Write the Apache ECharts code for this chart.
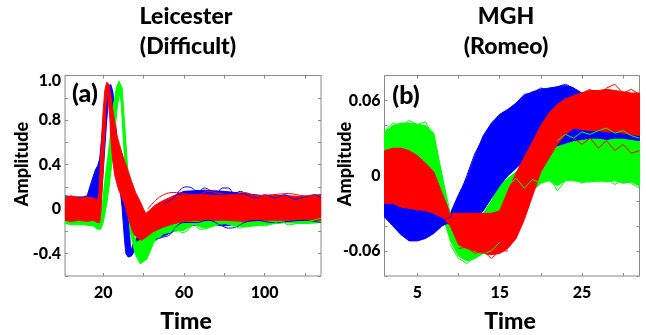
<!DOCTYPE html>
<html><head><meta charset="utf-8">
<script src="https://cdn.jsdelivr.net/npm/echarts@6/dist/echarts.min.js"></script>
<style>html,body{margin:0;padding:0;background:#fff}#c{width:646px;height:335px}</style>
</head><body><div id="c"></div>
<script>
// ---------- Panel (a) : Leicester (Difficult) ----------
const xTicksA = [20, 40, 60, 80, 100, 120];
const xLabelsA = [20, 60, 100];
const yLabelsA = [-0.4, 0, 0.4, 0.8];
const blueA_upper = [[1,0.12],[5,0.11],[10,0.11],[12,0.12],[14,0.24],[16,0.35],[17.2,0.39],[18.2,0.45],[19.5,0.7],[21,0.95],[22.5,1.1],[23.7,1.12],[24.8,1.05],[25.6,0.85],[27,0.61],[29,0.35],[30.5,0.2],[32.3,0.02],[33,-0.2],[33.6,-0.38],[35,-0.3],[38,-0.22],[42,-0.1],[46,0.0],[50,0.06],[55,0.12],[60,0.16],[70,0.17],[80,0.16],[90,0.14],[100,0.12],[110,0.12],[120,0.11],[128,0.13]];
const blueA_lower = [[1,-0.12],[5,-0.13],[10,-0.12],[12,-0.12],[15,-0.12],[17,-0.1],[18,-0.05],[19,0.1],[20.2,0.4],[21.5,0.75],[22.6,1.0],[23.4,1.04],[24,0.95],[24.8,0.75],[25.5,0.6],[26.8,0.4],[28.2,0.2],[29.3,0.02],[30.5,-0.27],[31.2,-0.4],[32.4,-0.43],[34,-0.42],[36,-0.36],[40,-0.3],[45,-0.27],[50,-0.24],[55,-0.2],[60,-0.15],[70,-0.14],[80,-0.15],[90,-0.13],[100,-0.13],[110,-0.12],[120,-0.12],[128,-0.12]];
const greenA_upper = [[1,0.11],[5,0.1],[10,0.09],[14,0.05],[16,0.0],[17.4,-0.12],[19.4,0.02],[21.1,0.31],[23.2,0.61],[24.8,0.91],[26.5,1.09],[27.8,1.15],[29.3,1.09],[30.6,0.76],[32.3,0.31],[33.6,-0.04],[35,-0.2],[36.4,-0.3],[38,-0.28],[40,-0.22],[45,-0.1],[50,-0.02],[55,0.05],[60,0.08],[70,0.1],[90,0.1],[110,0.1],[128,0.12]];
const greenA_lower = [[1,-0.13],[5,-0.14],[10,-0.14],[15,-0.15],[17,-0.18],[18.7,-0.18],[20,-0.12],[22,0.08],[24,0.37],[25.6,0.67],[26.9,0.91],[27.9,1.03],[28.8,0.97],[30,0.61],[31.3,0.22],[33.3,-0.2],[35.8,-0.4],[38.3,-0.49],[41.6,-0.45],[45,-0.3],[50,-0.22],[55,-0.2],[60,-0.19],[65,-0.14],[70,-0.17],[80,-0.13],[90,-0.16],[100,-0.14],[110,-0.12],[120,-0.13],[128,-0.12]];
const redA_upper = [[1,0.10],[4,0.12],[8,0.10],[12,0.11],[15,0.10],[17,0.08],[17.7,0.12],[18.3,0.33],[19.2,0.65],[20,0.90],[20.8,1.07],[21.7,1.14],[22.8,1.12],[24.5,0.92],[26.5,0.68],[28,0.58],[30,0.46],[32,0.36],[34,0.25],[36,0.15],[38,0.08],[40,0.0],[41,-0.04],[43,-0.01],[46,0.04],[50,0.08],[55,0.12],[60,0.13],[70,0.13],[80,0.12],[90,0.13],[100,0.12],[110,0.12],[120,0.11],[128,0.12]];
const redA_lower = [[1,-0.10],[4,-0.11],[8,-0.10],[12,-0.11],[15,-0.10],[17,-0.12],[18.2,-0.12],[18.9,0.0],[19.8,0.3],[20.7,0.65],[21.4,0.95],[21.9,1.04],[22.5,0.98],[23.3,0.8],[23.8,0.62],[24.6,0.45],[25.6,0.31],[27.5,0.18],[29.8,0.08],[31,0.02],[32.2,-0.065],[34.7,-0.21],[37,-0.26],[39,-0.28],[42,-0.24],[45,-0.2],[50,-0.16],[55,-0.13],[60,-0.11],[70,-0.1],[80,-0.1],[90,-0.11],[100,-0.1],[110,-0.1],[120,-0.1],[128,-0.1]];
const blueA_trace1 = [[50,0.05],[55,0.1],[58,0.17],[61,0.2],[64,0.19],[67,0.15],[70,0.19],[73,0.17],[76,0.14],[79,0.19],[82,0.19],[85,0.14],[88,0.16],[92,0.12],[96,0.1],[100,0.13],[105,0.1],[110,0.13],[115,0.09],[120,0.11],[125,0.13],[128,0.1]];
const blueA_trace2 = [[46,-0.27],[50,-0.25],[53,-0.23],[56,-0.16],[60,-0.12],[66,-0.12],[72,-0.1],[78,-0.14],[82,-0.17],[86,-0.16],[90,-0.12],[96,-0.1],[104,-0.12],[112,-0.11],[120,-0.1],[128,-0.12]];
const greenA_trace1 = [[42,-0.4],[45,-0.28],[50,-0.21],[53,-0.2],[56,-0.17],[59,-0.21],[62,-0.19],[65,-0.13],[68,-0.18],[72,-0.17],[76,-0.14],[80,-0.12],[84,-0.15],[88,-0.17],[92,-0.13],[96,-0.12],[100,-0.15],[104,-0.13],[108,-0.11],[112,-0.14],[118,-0.12],[124,-0.1],[128,-0.08]];
const redA_trace1 = [[42,0.0],[46,0.08],[50,0.13],[55,0.15],[60,0.14],[66,0.12],[72,0.16],[78,0.14],[84,0.13],[90,0.15],[96,0.12],[104,0.13],[112,0.14],[120,0.12],[128,0.13]];

// ---------- Panel (b) : MGH (Romeo) ----------
const xTicksB = [5, 10, 15, 20, 25, 30];
const xLabelsB = [5, 15, 25];
const yLabelsB = [-0.06, 0, 0.06];
const tB = [1,2,3,4,5,6,7,8,9,10,11,12,13,14,15,16,17,18,19,20,21,22,23,24,25,26,27,28,29,30,31,32];
const blueB_hi = [0.005,0.005,0.004,0.002,0.0,-0.005,-0.012,-0.024,-0.03,-0.015,-0.002,0.016,0.032,0.042,0.049,0.053,0.058,0.064,0.067,0.069,0.07,0.071,0.072,0.07,0.066,0.063,0.06,0.058,0.056,0.055,0.054,0.053];
const blueB_lo = [-0.033,-0.04,-0.047,-0.052,-0.052,-0.05,-0.046,-0.04,-0.037,-0.036,-0.035,-0.034,-0.028,-0.018,-0.008,0.0,0.006,0.012,0.017,0.02,0.022,0.024,0.026,0.028,0.029,0.03,0.03,0.029,0.03,0.03,0.029,0.028];
const greenB_hi = [0.035,0.04,0.042,0.042,0.041,0.04,0.034,0.0,-0.035,-0.038,-0.04,-0.038,-0.03,-0.02,-0.008,-0.002,0.003,0.01,0.016,0.022,0.027,0.03,0.032,0.033,0.034,0.035,0.036,0.037,0.036,0.034,0.033,0.032];
const greenB_lo = [0.0,0.005,0.008,0.008,0.006,0.0,-0.012,-0.03,-0.052,-0.064,-0.068,-0.066,-0.062,-0.058,-0.052,-0.046,-0.036,-0.022,-0.012,-0.006,-0.004,-0.008,-0.004,-0.004,-0.005,-0.005,-0.004,-0.005,-0.004,-0.006,-0.005,-0.008];
const redB_hi = [0.02,0.022,0.022,0.02,0.016,0.01,0.003,-0.014,-0.03,-0.03,-0.03,-0.03,-0.03,-0.03,-0.028,-0.012,0.002,0.015,0.027,0.04,0.05,0.057,0.061,0.064,0.066,0.068,0.068,0.069,0.068,0.067,0.066,0.066];
const redB_lo = [-0.022,-0.022,-0.025,-0.026,-0.027,-0.028,-0.03,-0.033,-0.04,-0.055,-0.058,-0.06,-0.062,-0.063,-0.062,-0.058,-0.05,-0.035,-0.016,0.003,0.014,0.025,0.033,0.038,0.037,0.036,0.036,0.035,0.035,0.034,0.033,0.032];
const greenB_trace1 = [[1,0.036],[2,0.042],[3,0.04],[4,0.044],[5,0.041],[6,0.043],[7,0.03],[8,0.0],[9,-0.03]];
const greenB_trace2 = [[16,-0.008],[17,-0.002],[18,-0.01],[19,-0.003],[20,-0.006],[21,0.0],[22,-0.012],[23,-0.004],[24,-0.002],[25,-0.006],[26,-0.003],[27,-0.005],[28,-0.002],[29,-0.007],[30,-0.003],[31,-0.006],[32,-0.01]];
const greenB_trace3 = [[9,-0.055],[10,-0.066],[11,-0.07],[12,-0.065],[13,-0.062],[14,-0.06],[15,-0.053]];
const greenB_trace4 = [[22,0.028],[23,0.033],[24,0.03],[25,0.035],[26,0.033],[27,0.036],[28,0.038],[29,0.034],[30,0.036],[31,0.032],[32,0.03]];
const blueB_trace1 = [[8,-0.036],[9,-0.033],[10,-0.018],[11,0.0],[12,0.018],[13,0.03],[14,0.035],[15,0.048],[16,0.05],[17,0.058],[18,0.065],[19,0.066],[20,0.07],[21,0.068],[22,0.071],[23,0.073],[24,0.07]];
const redB_trace1 = [[1,0.018],[2,0.012],[3,0.022],[4,0.01],[5,0.014],[6,0.005],[7,-0.005],[8,-0.02],[9,-0.033]];
const redB_trace2 = [[1,-0.015],[2,-0.02],[3,-0.012],[4,-0.022],[5,-0.028],[6,-0.018],[7,-0.03],[8,-0.033],[9,-0.034]];
const redB_trace3 = [[22,0.055],[23,0.062],[24,0.06],[25,0.066],[26,0.069],[27,0.063],[28,0.07],[29,0.073],[30,0.066],[31,0.069],[32,0.065]];
const redB_trace4 = [[10,-0.058],[11,-0.057],[12,-0.062],[13,-0.06],[14,-0.066],[15,-0.06],[16,-0.06]];
const redB_trace5 = [[24,0.03],[25,0.025],[26,0.03],[27,0.022],[28,0.028],[29,0.02],[30,0.025],[31,0.018],[32,0.02]];

const BLUE = '#0000ff', GREEN = '#00ff00', RED = '#ff0000';
const FONT = 'Lato';
const W = 900;
const GRAY = '#8a8a8a';

function pairs(ts, vs) { return ts.map((t, i) => [t, vs[i]]); }

function band(ax, upper, lower, color) {
  const outline = upper.concat(lower.slice().reverse());
  return {
    type: 'custom', xAxisIndex: ax, yAxisIndex: ax, clip: true, silent: true,
    data: outline, encode: { x: 0, y: 1 },
    renderItem: function (params, api) {
      if (params.dataIndex !== 0) return null;
      const pts = outline.map(p => api.coord(p));
      return { type: 'polygon', shape: { points: pts }, style: { fill: color, stroke: color, lineWidth: 1 } };
    }
  };
}
function trace(ax, data, color, smooth) {
  return { type: 'line', xAxisIndex: ax, yAxisIndex: ax, data: data, showSymbol: false, silent: true,
    smooth: smooth, lineStyle: { color: color, width: 1 }, clip: true };
}
function near(v, list) { return list.some(x => Math.abs(v - x) < 1e-6); }

const tickStyle = { show: true, inside: true, length: 3, lineStyle: { color: GRAY, width: 1 } };
const labelStyle = { color: '#000', fontFamily: FONT, fontWeight: W, fontSize: 16 };

function xAx(gi, min, max, ticks, labels, top) {
  return { type: 'value', gridIndex: gi, min: min, max: max, position: top ? 'top' : 'bottom',
    axisLine: { show: false, onZero: false }, splitLine: { show: false },
    axisTick: Object.assign({ customValues: ticks }, tickStyle),
    axisLabel: top ? { show: false } : Object.assign({ customValues: labels, margin: 9 }, labelStyle) };
}
function yAx(gi, min, max, interval, fmt, right) {
  return { type: 'value', gridIndex: gi, min: min, max: max, interval: interval, position: right ? 'right' : 'left',
    axisLine: { show: false, onZero: false }, splitLine: { show: false }, axisTick: tickStyle,
    axisLabel: right ? { show: false } : Object.assign({ formatter: fmt, margin: 4, showMinLabel: true, showMaxLabel: true,
      rich: { top: { fontFamily: FONT, fontWeight: W, fontSize: 16, color: '#000', padding: [10, 0, 0, 0] } } }, labelStyle) };
}
const fmtA = v => (Math.abs(v - 1.2) < 1e-6 ? '{top|1.0}' : near(v, yLabelsA) ? (Math.abs(v) < 1e-9 ? '0' : v.toFixed(1)) : '');
const fmtB = v => (near(v, yLabelsB) ? (Math.abs(v) < 1e-9 ? '0' : v.toFixed(2)) : '');

const txt = (x, y, s, size, rot) => ({ type: 'text', x: x, y: y, rotation: rot || 0, silent: true,
  style: { text: s, fill: '#000', font: W + ' ' + size + 'px ' + FONT, align: 'center', verticalAlign: 'middle' } });

const chart = echarts.init(document.getElementById('c'), null, { renderer: 'canvas' });
chart.setOption({
  animation: false,
  grid: [
    { left: 65, top: 75.5, width: 256, height: 200.5, show: true, borderColor: GRAY, borderWidth: 1, backgroundColor: 'transparent' },
    { left: 384.5, top: 75.5, width: 255, height: 200.5, show: true, borderColor: GRAY, borderWidth: 1, backgroundColor: 'transparent' }
  ],
  xAxis: [
    xAx(0, 1, 128, xTicksA, xLabelsA, false),
    xAx(1, 1, 32, xTicksB, xLabelsB, false),
    xAx(0, 1, 128, xTicksA, xLabelsA, true),
    xAx(1, 1, 32, xTicksB, xLabelsB, true)
  ],
  yAxis: [
    yAx(0, -0.6, 1.2, 0.2, fmtA, false),
    yAx(1, -0.08, 0.08, 0.02, fmtB, false),
    yAx(0, -0.6, 1.2, 0.2, fmtA, true),
    yAx(1, -0.08, 0.08, 0.02, fmtB, true)
  ],
  series: [
    band(0, blueA_upper, blueA_lower, BLUE),
    band(0, greenA_upper, greenA_lower, GREEN),
    trace(0, blueA_trace1, BLUE, 0.4),
    trace(0, blueA_trace2, BLUE, 0.4),
    trace(0, greenA_trace1, GREEN, 0.4),
    band(0, redA_upper, redA_lower, RED),
    trace(0, redA_trace1, RED, 0.4),

    band(1, pairs(tB, greenB_hi), pairs(tB, greenB_lo), GREEN),
    trace(1, greenB_trace1, GREEN, false),
    trace(1, greenB_trace2, GREEN, false),
    trace(1, greenB_trace3, GREEN, false),
    band(1, pairs(tB, blueB_hi), pairs(tB, blueB_lo), BLUE),
    trace(1, blueB_trace1, BLUE, false),
    trace(1, greenB_trace4, GREEN, false),
    band(1, pairs(tB, redB_hi), pairs(tB, redB_lo), RED),
    trace(1, redB_trace1, RED, false),
    trace(1, redB_trace2, RED, false),
    trace(1, redB_trace3, RED, false),
    trace(1, redB_trace4, RED, false),
    trace(1, redB_trace5, RED, false)
  ],
  graphic: [
    txt(186, 17, 'Leicester', 23), txt(188, 47, '(Difficult)', 23),
    txt(506, 17, 'MGH', 23), txt(506, 47, '(Romeo)', 23),
    txt(85, 94, '(a)', 25), txt(406, 96, '(b)', 25),
    txt(22, 164, 'Amplitude', 18, Math.PI / 2), txt(345, 164, 'Amplitude', 18, Math.PI / 2),
    txt(186, 322, 'Time', 23), txt(510, 322, 'Time', 23)
  ]
});
</script></body></html>
